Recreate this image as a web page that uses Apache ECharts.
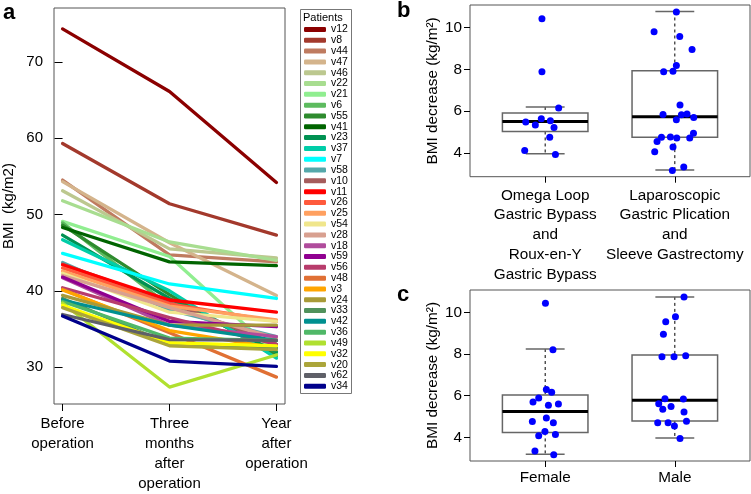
<!DOCTYPE html>
<html><head><meta charset="utf-8">
<script src="https://cdn.jsdelivr.net/npm/echarts@6/dist/echarts.min.js"></script>
<style>html,body{margin:0;padding:0;background:#fff}#c{width:751px;height:494px}</style>
</head><body><div id="c"></div>
<script>
// ---------- Panel a data ----------
const timepoints = ['Before\noperation', 'Three\nmonths\nafter\noperation', 'Year\nafter\noperation'];
const patients = ['v12','v8','v44','v47','v46','v22','v21','v6','v55','v41','v23','v37','v7','v58','v10','v11','v26','v25','v54','v28','v18','v59','v56','v48','v3','v24','v33','v42','v36','v49','v32','v20','v62','v34'];
const patientColors = ['#8B0000','#A3392C','#BF7B60','#D4B48C','#BCC88F','#A8DD90','#90EE90','#5DBB5F','#2E8B2E','#006400','#009152','#00CDA8','#00FFFF','#55A8AA','#A65C5C','#FF0000','#FF5A3C','#FFA060','#F0E68C','#D8A090','#B04C9C','#900090','#B83C6C','#E07034','#FFA500','#A89A38','#50925C','#009090','#50B868','#B0E030','#FFFF00','#ABA53A','#5F6068','#00008B'];
const bmiBefore = [74.3,59.3,54.5,54.3,53.1,51.8,49.1,48.9,48.6,48.3,47.3,46.7,44.9,43.7,43.5,43.4,43.0,42.6,42.3,42.0,41.7,41.8,40.4,40.2,40.1,39.4,39.0,38.8,38.6,38.4,38.1,37.8,36.9,36.7];
const bmiThree  = [66.1,51.4,44.7,46.3,45.5,46.4,44.5,38.0,39.5,43.8,39.0,40.0,40.9,37.5,38.5,38.8,38.3,38.0,37.2,37.8,35.5,36.0,36.5,34.5,34.8,35.5,33.0,35.5,33.8,27.4,33.2,32.8,33.6,30.8];
const bmiYear   = [54.2,47.3,43.8,39.4,44.3,44.0,31.8,33.0,31.5,43.3,32.0,31.2,39.0,34.0,33.0,37.2,36.0,36.2,36.0,33.8,34.0,35.3,33.0,28.7,32.5,35.5,32.5,33.5,33.5,31.6,32.8,32.3,33.5,30.1];
const bmiTicks = [30,40,50,60,70];

// ---------- Panel b data ----------
const surgeryGroups = ['Omega Loop\nGastric Bypass\nand\nRoux-en-Y\nGastric Bypass', 'Laparoscopic\nGastric Plication\nand\nSleeve Gastrectomy'];
// [lower whisker, Q1, median, Q3, upper whisker]
const surgeryBoxStats = [[3.97,5.03,5.51,5.91,6.2],[3.19,4.76,5.73,7.93,10.76]];
const surgeryPointX = [0.975,0.975,1.104,0.85,0.924,1.04,0.97,1.068,1.035,0.842,1.079,
  2.012,1.84,2.038,2.133,2.012,1.914,1.986,2.04,1.909,2.051,2.094,2.012,2.146,2.144,2.115,1.897,1.863,1.966,2.015,1.986,1.845,2.069,1.981];
const surgeryPointY = [10.41,7.88,6.15,5.48,5.34,5.54,5.64,5.22,4.76,4.12,3.93,
  10.73,9.79,9.57,8.95,8.18,7.88,7.91,6.29,5.84,5.83,5.86,5.59,5.70,4.95,4.72,4.75,4.55,4.77,4.72,4.29,4.06,3.33,3.17];

// ---------- Panel c data ----------
const sexGroups = ['Female', 'Male'];
const sexBoxStats = [[3.19,4.24,5.24,6.03,8.24],[3.97,4.79,5.78,7.95,10.74]];
const sexPointX = [1.002,1.06,1.009,1.05,0.95,0.906,1.025,1.102,1.009,0.901,1.063,0.998,1.079,0.95,0.921,1.066,
  2.071,2.005,1.93,1.912,1.901,1.994,2.084,1.924,2.066,1.876,1.971,1.907,2.071,2.09,1.868,1.948,1.997,2.04];
const sexPointY = [10.43,8.20,6.30,6.17,5.89,5.70,5.54,5.60,4.93,4.76,4.71,4.29,4.14,4.08,3.35,3.17,
  10.74,9.79,9.55,8.95,7.87,7.87,7.92,5.86,5.84,5.62,5.48,5.35,5.22,4.78,4.71,4.71,4.55,3.95];
const decreaseTicks = [4,6,8,10];

// ---------- build ----------
const FONT = '"Liberation Sans", Arial, Helvetica, sans-serif';
const chart = echarts.init(document.getElementById('c'), null, {renderer: 'canvas'});

const lineSeries = patients.map((p, i) => ({
  type: 'line', name: p, xAxisIndex: 0, yAxisIndex: 0,
  data: [[0, bmiBefore[i]], [1, bmiThree[i]], [2, bmiYear[i]]],
  symbol: 'none', color: patientColors[i],
  lineStyle: {width: 3.3, color: patientColors[i], cap: 'round', join: 'round'},
  itemStyle: {color: patientColors[i]},
  emphasis: {disabled: true}, animation: false, silent: true
}));

function boxRender(params, api) {
  const x = api.value(0);
  const c0 = api.coord([x, api.value(1)]);
  const c1 = api.coord([x, api.value(2)]);
  const c2 = api.coord([x, api.value(3)]);
  const c3 = api.coord([x, api.value(4)]);
  const c4 = api.coord([x, api.value(5)]);
  const hw = api.size([0.33, 0])[0];
  const cw = api.size([0.15, 0])[0];
  const cx = c0[0];
  return {type: 'group', children: [
    {type: 'line', shape: {x1: cx, y1: c4[1], x2: cx, y2: c3[1]}, style: {stroke: '#000', lineWidth: 1, lineDash: [3, 3]}},
    {type: 'line', shape: {x1: cx, y1: c1[1], x2: cx, y2: c0[1]}, style: {stroke: '#000', lineWidth: 1, lineDash: [3, 3]}},
    {type: 'line', shape: {x1: cx - cw, y1: c4[1], x2: cx + cw, y2: c4[1]}, style: {stroke: '#666', lineWidth: 1.5}},
    {type: 'line', shape: {x1: cx - cw, y1: c0[1], x2: cx + cw, y2: c0[1]}, style: {stroke: '#666', lineWidth: 1.5}},
    {type: 'rect', shape: {x: cx - hw, y: c3[1], width: 2 * hw, height: c1[1] - c3[1]}, style: {fill: '#fff', stroke: '#666', lineWidth: 1.5}},
    {type: 'line', shape: {x1: cx - hw, y1: c2[1], x2: cx + hw, y2: c2[1]}, style: {stroke: '#000', lineWidth: 3}}
  ]};
}

function boxSeries(stats, axisIdx) {
  return {
    type: 'custom', xAxisIndex: axisIdx, yAxisIndex: axisIdx, renderItem: boxRender,
    data: stats.map((s, i) => [i + 1].concat(s)),
    encode: {x: 0, y: [1, 2, 3, 4, 5]}, silent: true, animation: false, z: 2
  };
}
function pointSeries(xs, ys, axisIdx) {
  return {
    type: 'scatter', xAxisIndex: axisIdx, yAxisIndex: axisIdx,
    data: xs.map((x, i) => [x, ys[i]]), symbolSize: 7,
    itemStyle: {color: '#0000FF', opacity: 1}, silent: true, animation: false, z: 5
  };
}

function boxXAxis(idx, labels, margin) {
  return {
    gridIndex: idx, type: 'value', min: 0.42, max: 2.58,
    axisLine: {show: false}, splitLine: {show: false},
    axisTick: {show: true, customValues: [1, 2], length: 6, lineStyle: {color: '#000'}},
    axisLabel: {customValues: [1, 2], formatter: v => labels[Math.round(v) - 1], fontSize: 15.3,
      lineHeight: 19.7, margin: margin, color: '#000', fontFamily: FONT}
  };
}
function boxYAxis(idx) {
  return {
    gridIndex: idx, type: 'value', min: 2.87, max: 11.07,
    axisLine: {show: false}, splitLine: {show: false},
    axisTick: {show: true, customValues: decreaseTicks, length: 6, lineStyle: {color: '#000'}},
    axisLabel: {customValues: decreaseTicks, fontSize: 15.3, margin: 8, color: '#000', fontFamily: FONT},
    name: 'BMI decrease (kg/m²)', nameLocation: 'middle', nameGap: 30,
    nameTextStyle: {fontSize: 15.3, color: '#000', fontFamily: FONT}
  };
}

const option = {
  animation: false,
  backgroundColor: '#fff',
  grid: [
    {left: 54, top: 8, width: 231, height: 398, show: true, borderColor: '#555', borderWidth: 1, backgroundColor: 'transparent'},
    {left: 470, top: 5, width: 280, height: 171.7, show: true, borderColor: '#555', borderWidth: 1, backgroundColor: 'transparent'},
    {left: 470, top: 290, width: 280, height: 171, show: true, borderColor: '#555', borderWidth: 1, backgroundColor: 'transparent'}
  ],
  xAxis: [
    {gridIndex: 0, type: 'value', min: -0.08, max: 2.08,
      axisLine: {show: false}, splitLine: {show: false},
      axisTick: {show: true, customValues: [0, 1, 2], length: 7, lineStyle: {color: '#000'}},
      axisLabel: {customValues: [0, 1, 2], formatter: v => timepoints[Math.round(v)], fontSize: 15,
        lineHeight: 20, margin: 10, color: '#000', fontFamily: FONT}},
    boxXAxis(1, surgeryGroups, 9),
    boxXAxis(2, sexGroups, 7)
  ],
  yAxis: [
    {gridIndex: 0, type: 'value', min: 25.18, max: 77.04,
      axisLine: {show: false}, splitLine: {show: false},
      axisTick: {show: true, customValues: bmiTicks, length: 8, lineStyle: {color: '#000'}},
      axisLabel: {customValues: bmiTicks, fontSize: 15, margin: 11, color: '#000', fontFamily: FONT},
      name: 'BMI  (kg/m2)', nameLocation: 'middle', nameGap: 38,
      nameTextStyle: {fontSize: 15, color: '#000', fontFamily: FONT}},
    boxYAxis(1),
    boxYAxis(2)
  ],
  legend: {
    data: patients, orient: 'vertical', left: 304, top: 24, padding: 0,
    itemWidth: 22, itemHeight: 5, itemGap: -0.19, icon: 'roundRect', selectedMode: false,
    textStyle: {fontSize: 10.5, lineHeight: 11, color: '#000', fontFamily: FONT}
  },
  graphic: [
    {type: 'rect', shape: {x: 300.5, y: 9.5, width: 51, height: 384}, style: {fill: 'none', stroke: '#777', lineWidth: 1}, z: 10},
    {type: 'text', x: 303, y: 18, style: {text: 'Patients', font: '11px ' + FONT, fill: '#000', textVerticalAlign: 'middle'}, z: 10},
    {type: 'text', x: 3, y: 12.5, style: {text: 'a', font: 'bold 22px ' + FONT, fill: '#000', textVerticalAlign: 'middle'}, z: 10},
    {type: 'text', x: 397, y: 11, style: {text: 'b', font: 'bold 22px ' + FONT, fill: '#000', textVerticalAlign: 'middle'}, z: 10},
    {type: 'text', x: 397, y: 294.5, style: {text: 'c', font: 'bold 22px ' + FONT, fill: '#000', textVerticalAlign: 'middle'}, z: 10}
  ],
  series: lineSeries.concat([
    boxSeries(surgeryBoxStats, 1), pointSeries(surgeryPointX, surgeryPointY, 1),
    boxSeries(sexBoxStats, 2), pointSeries(sexPointX, sexPointY, 2)
  ])
};
chart.setOption(option);
</script></body></html>
